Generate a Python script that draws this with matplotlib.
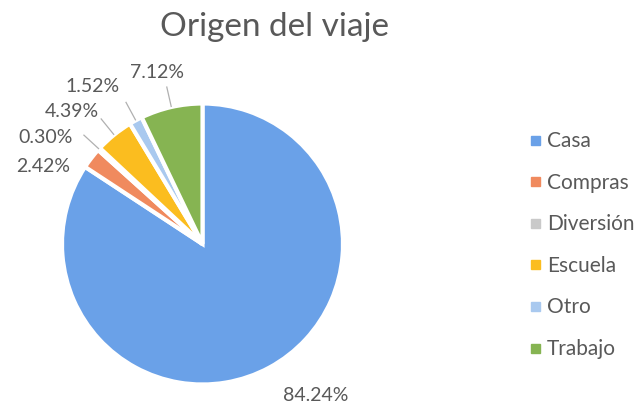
import numpy as np
import matplotlib
matplotlib.use("Agg")
import matplotlib.pyplot as plt
from matplotlib.patches import Rectangle

# Trip origin shares (percent)
categories = ["Casa", "Compras", "Diversión", "Escuela", "Otro", "Trabajo"]
shares = [84.24, 2.42, 0.30, 4.39, 1.52, 7.12]
colors = ["#6aa1e8", "#f08a5e", "#c9c9c9", "#fbbd1f", "#a9c9ef", "#86b452"]
title = "Origen del viaje"

plt.rcParams["font.family"] = ["Lato", "DejaVu Sans"]
text_color = "#595959"

W, H = 634, 406
fig = plt.figure(figsize=(W / 100, H / 100), dpi=100)
ax = fig.add_axes([0, 0, 1, 1])

cx, cy, R = 202.5, 245, 140.5  # pie centre (px from top-left) and radius
wedges, _ = ax.pie(shares, colors=colors, startangle=90, counterclock=False,
                   radius=1.0,
                   wedgeprops=dict(edgecolor="white", linewidth=3))
ax.set_aspect("auto")
ax.set_xlim(-cx / R, (W - cx) / R)
ax.set_ylim(-(H - cy) / R, cy / R)
ax.axis("off")

# label placement: (radius, angle shift in degrees, leader line?)
label_layout = {
    "Casa": (1.34, 8.7, False),
    "Compras": (1.26, 11.5, False),
    "Diversión": (1.355, 8.3, True),
    "Escuela": (1.33, 5.5, True),
    "Otro": (1.37, 6.3, True),
    "Trabajo": (1.27, 1.9, True),
}

for w, cat, val in zip(wedges, categories, shares):
    mid = np.deg2rad((w.theta1 + w.theta2) / 2)
    r_lab, dang, leader = label_layout[cat]
    ang = mid + np.deg2rad(dang)
    tx, ty = r_lab * np.cos(ang), r_lab * np.sin(ang)
    ax.text(tx, ty, f"{val:.2f}%", ha="center", va="center",
            fontsize=14, color=text_color)
    if leader:
        ax.plot([1.0 * np.cos(mid), 1.15 * np.cos(mid)],
                [1.0 * np.sin(mid), 1.15 * np.sin(mid)],
                color="#b0b0b0", lw=0.9, solid_capstyle="butt")

fig.text(275 / W, 1 - 27 / H, title, ha="center", va="center",
         fontsize=24, color=text_color)

# legend
leg_y0, leg_dy = 141, 41.6
for i, (cat, col) in enumerate(zip(categories, colors)):
    y = leg_y0 + i * leg_dy
    fig.patches.append(Rectangle((531 / W, 1 - (y + 4.5) / H), 9 / W, 9 / H,
                                 transform=fig.transFigure, color=col))
    fig.text(547 / W, 1 - y / H, cat, ha="left", va="center",
             fontsize=15, color=text_color)

fig.savefig("out.png", dpi=100)
